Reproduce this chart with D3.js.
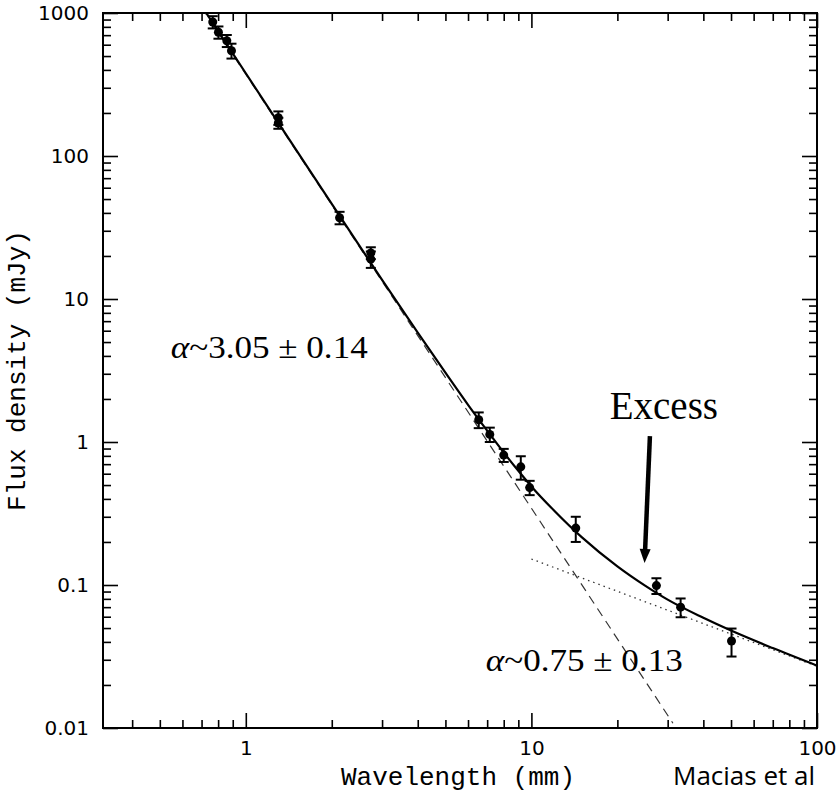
<!DOCTYPE html>
<meta charset="utf-8">
<style>
body{margin:0;background:#fff;}
svg{display:block;}
.tick text{font-family:"DejaVu Sans";font-size:20px;fill:#000;}
.tick line{stroke:#000;stroke-width:1.6px;}
.axis path{display:none;}
.axis-label{font-family:"Liberation Mono";font-size:26px;fill:#000;}
.note{font-family:"Liberation Serif";fill:#000;}
</style>
<body>
<svg id="vis" width="839" height="795"></svg>
<script src="https://d3js.org/d3.v7.min.js"></script>
<script>
// measured points: wavelength (mm), flux density (mJy), 1-sigma error (mJy)
var wavelength = [0.766, 0.802, 0.858, 0.891, 1.30, 1.30, 2.13, 2.74, 2.74, 6.54, 7.15, 8.0, 9.18, 9.86, 14.3, 27.4, 33.3, 50.2];
var flux       = [865, 733, 640, 545, 185, 170, 37, 21, 19, 1.43, 1.13, 0.81, 0.67, 0.48, 0.25, 0.099, 0.070, 0.0406];
var fluxErr    = [85, 72, 62, 65, 20, 15, 3.7, 2.0, 2.5, 0.18, 0.13, 0.085, 0.125, 0.055, 0.05, 0.0125, 0.0105, 0.009];

// total fit curve
var fitWave = [0.7, 0.8, 1.0, 1.3, 2, 3, 4, 5, 6, 7, 8, 9, 10, 12, 15, 20, 25, 30, 40, 50, 70, 100];
var fitFlux = [1123, 748, 379, 170.5, 46.2, 13.6, 5.81, 3.05, 1.82, 1.20, 0.845, 0.629, 0.489, 0.332, 0.216, 0.135, 0.099, 0.079, 0.059, 0.048, 0.0362, 0.0273];

// dust (dashed) and free-free (dotted) power laws, end points
var dashWave = [0.7, 31.3], dashFlux = [1100, 0.0108];
var dotWave = [10, 100], dotFlux = [0.152, 0.027];

var xMajor = [1, 10, 100], xTickLabels = ["1", "10", "100"];
var yMajor = [0.01, 0.1, 1, 10, 100, 1000], yTickLabels = ["0.01", "0.1", "1", "10", "100", "1000"];

var svg = d3.select("svg"),
    margin = {top: 13, right: 22, bottom: 67, left: 103},
    width = +svg.attr("width") - margin.left - margin.right,
    height = +svg.attr("height") - margin.top - margin.bottom;

var x = d3.scaleLog().domain([Math.pow(10, -0.5), 100]).range([0, width]),
    y = d3.scaleLog().domain([0.01, 1000]).range([height, 0]);

var g = svg.append("g")
    .attr("transform", "translate(" + margin.left + "," + margin.top + ")");

g.append("clipPath").attr("id", "clip")
  .append("rect").attr("width", width).attr("height", height);

// minor ticks on all four sides
var xMinor = x.ticks().filter(function(d){ return xMajor.indexOf(d) < 0; });
var yMinor = y.ticks().filter(function(d){ return yMajor.indexOf(d) < 0; });

function noLabel(){ return ""; }

g.append("g").attr("class", "axis").attr("transform", "translate(0," + height + ")")
  .call(d3.axisBottom(x).tickValues(xMinor).tickSize(-8).tickFormat(noLabel));
g.append("g").attr("class", "axis")
  .call(d3.axisTop(x).tickValues(xMinor).tickSize(-8).tickFormat(noLabel));
g.append("g").attr("class", "axis")
  .call(d3.axisLeft(y).tickValues(yMinor).tickSize(-8).tickFormat(noLabel));
g.append("g").attr("class", "axis").attr("transform", "translate(" + width + ",0)")
  .call(d3.axisRight(y).tickValues(yMinor).tickSize(-8).tickFormat(noLabel));

// major ticks with labels
g.append("g").attr("class", "axis").attr("transform", "translate(0," + height + ")")
  .call(d3.axisBottom(x).tickValues(xMajor).tickSize(-15).tickPadding(13)
    .tickFormat(function(d, i){ return xTickLabels[i]; }));
g.append("g").attr("class", "axis")
  .call(d3.axisTop(x).tickValues(xMajor).tickSize(-15).tickFormat(noLabel));
g.append("g").attr("class", "axis")
  .call(d3.axisLeft(y).tickValues(yMajor).tickSize(-15).tickPadding(14)
    .tickFormat(function(d, i){ return yTickLabels[i]; }));
g.append("g").attr("class", "axis").attr("transform", "translate(" + width + ",0)")
  .call(d3.axisRight(y).tickValues(yMajor).tickSize(-15).tickFormat(noLabel));

g.append("rect")
  .attr("width", width).attr("height", height)
  .attr("fill", "none").attr("stroke", "#000").attr("stroke-width", 2);

var line = d3.line()
  .x(function(d){ return x(d[0]); })
  .y(function(d){ return y(d[1]); });

var lines = g.append("g").attr("clip-path", "url(#clip)");

lines.append("path")
  .datum(dashWave.map(function(d, i){ return [d, dashFlux[i]]; }))
  .attr("d", line)
  .attr("fill", "none").attr("stroke", "#333").attr("stroke-width", 1.2)
  .attr("stroke-dasharray", "9,6");

lines.append("path")
  .datum(dotWave.map(function(d, i){ return [d, dotFlux[i]]; }))
  .attr("d", line)
  .attr("fill", "none").attr("stroke", "#333").attr("stroke-width", 1.3)
  .attr("stroke-dasharray", "1.5,4");

lines.append("path")
  .datum(fitWave.map(function(d, i){ return [d, fitFlux[i]]; }))
  .attr("d", line.curve(d3.curveMonotoneX))
  .attr("fill", "none").attr("stroke", "#000").attr("stroke-width", 2.2);

// error bars and points
var pts = wavelength.map(function(d, i){ return {w: d, f: flux[i], e: fluxErr[i]}; });
var bars = g.append("g").selectAll("g").data(pts).enter().append("g")
  .attr("stroke", "#000").attr("stroke-width", 2);

bars.append("line")
  .attr("x1", function(d){ return x(d.w); }).attr("x2", function(d){ return x(d.w); })
  .attr("y1", function(d){ return y(d.f - d.e); }).attr("y2", function(d){ return y(d.f + d.e); });
bars.append("line")
  .attr("x1", function(d){ return x(d.w) - 5; }).attr("x2", function(d){ return x(d.w) + 5; })
  .attr("y1", function(d){ return y(d.f + d.e); }).attr("y2", function(d){ return y(d.f + d.e); });
bars.append("line")
  .attr("x1", function(d){ return x(d.w) - 5; }).attr("x2", function(d){ return x(d.w) + 5; })
  .attr("y1", function(d){ return y(d.f - d.e); }).attr("y2", function(d){ return y(d.f - d.e); });

g.append("g").selectAll("circle").data(pts).enter().append("circle")
  .attr("cx", function(d){ return x(d.w); })
  .attr("cy", function(d){ return y(d.f); })
  .attr("r", 4.5).attr("fill", "#000");

// axis titles
svg.append("text").attr("class", "axis-label")
  .attr("text-anchor", "middle")
  .attr("transform", "translate(25," + (margin.top + height / 2) + ") rotate(-90)")
  .text("Flux density (mJy)");

svg.append("text").attr("class", "axis-label")
  .attr("text-anchor", "middle")
  .attr("x", margin.left + width / 2 - 2).attr("y", 785)
  .text("Wavelength (mm)");

// annotations (positions in data units)
function alphaLabel(w, f, txt) {
  var t = g.append("text").attr("class", "note")
    .attr("x", x(w)).attr("y", y(f))
    .style("font-size", "31px")
    .attr("textLength", 197).attr("lengthAdjust", "spacingAndGlyphs");
  t.append("tspan").style("font-style", "italic").text("α");
  t.append("tspan").text(txt);
}
alphaLabel(0.546, 3.87, "~3.05 ± 0.14");
alphaLabel(6.92, 0.025, "~0.75 ± 0.13");

g.append("text").attr("class", "note")
  .attr("x", x(18.8)).attr("y", y(1.45))
  .style("font-size", "39px")
  .text("Excess");

var arrowFrom = [26.0, 1.10], arrowTo = [24.9, 0.1425];
var ax0 = x(arrowFrom[0]), ay0 = y(arrowFrom[1]), ax1 = x(arrowTo[0]), ay1 = y(arrowTo[1]);
var len = Math.sqrt((ax1 - ax0) * (ax1 - ax0) + (ay1 - ay0) * (ay1 - ay0)),
    ux = (ax1 - ax0) / len, uy = (ay1 - ay0) / len;
var hb = [ax1 - 14 * ux, ay1 - 14 * uy];
g.append("line")
  .attr("x1", ax0).attr("y1", ay0).attr("x2", hb[0] + 2 * ux).attr("y2", hb[1] + 2 * uy)
  .attr("stroke", "#000").attr("stroke-width", 4.5);
g.append("path")
  .attr("d", "M" + ax1 + "," + ay1 +
    "L" + (hb[0] - 5.5 * uy) + "," + (hb[1] + 5.5 * ux) +
    "L" + (hb[0] + 5.5 * uy) + "," + (hb[1] - 5.5 * ux) + "Z")
  .attr("fill", "#000");

svg.append("text")
  .attr("x", 673).attr("y", 785)
  .style("font-family", "Open Sans").style("font-size", "26px").attr("fill", "#000")
  .text("Macias et al");
</script>
</body>
